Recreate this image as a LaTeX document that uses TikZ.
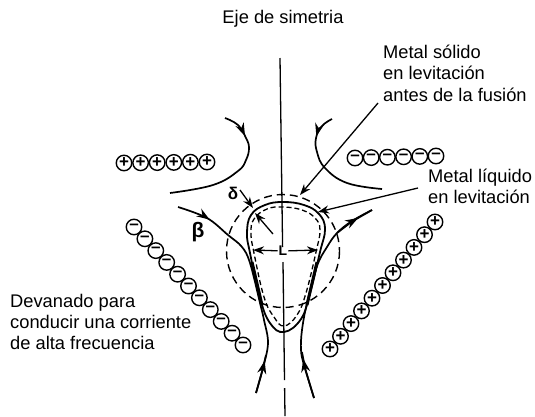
\documentclass[tikz,border=0pt]{standalone}
\usepackage{fontspec}
\setmainfont{Liberation Sans}
\usepackage{tikz}
\usetikzlibrary{decorations.markings,arrows.meta}
\tikzset{
    lab/.style={anchor=west, align=left, inner sep=0pt, font=\fontsize{18.3}{21.2}\selectfont},
    coilplus/.style={draw, circle, line width=1.4pt, minimum size=15.5pt, inner sep=0pt, font=\fontsize{17}{17}\selectfont\bfseries},
    coilminus/.style={coilplus},
    fieldline/.style={line width=1.7pt},
    leader/.style={-{Stealth[length=11pt,width=8pt]}, line width=1.3pt},
    arrowat/.style={postaction={decorate}, decoration={markings, mark=at position #1 with {\arrow{Stealth[length=13pt,width=9pt]}}}}
}
\begin{document}
\begin{tikzpicture}[x=1pt, y=-1pt]
    \useasboundingbox (0,0) rectangle (535,416);
    % Symmetry axis
    \draw[line width=1.3pt] (280,58) -- (282.6,247);
    \draw[line width=1.3pt] (283,262) -- (284.5,380);
    \draw[line width=1.3pt] (284.6,388) -- (285,416);
    % Labels
    \node[lab, anchor=center] (axislab) at (283,19) {Eje de simetria};
    \node[lab, anchor=north west] (solidlab) at (383,45) {Metal sólido\\en levitación\\antes de la fusión};
    \node[lab, anchor=north west] (liquidlab) at (428,169) {Metal líquido\\en levitación};
    \node[lab, anchor=north west] (coillab) at (10,294) {Devanado para\\conducir una corriente\\de alta frecuencia};
    \node[font=\fontsize{21}{21}\selectfont\bfseries] (betalab) at (198,232) {β};
    \node[font=\fontsize{17}{17}\selectfont\bfseries] (deltalab) at (233,193) {δ};
    \node[inner sep=1pt, font=\fontsize{14}{14}\selectfont\bfseries] (lenlab) at (283,251) {L};
    % Coils
    \foreach \i in {0,...,5} {
        \node[coilplus] (cpa\i) at ({124+16.6*\i},{163-0.2*\i}) {+};
        \node[coilminus] (cma\i) at ({355+16.2*\i},{158-0.4*\i}) {\raisebox{1pt}{–}};
    }
    \foreach \i in {0,...,10} {
        \node[coilminus] (cmb\i) at ({134+10.9*\i},{227+11.8*\i}) {\raisebox{1pt}{–}};
        \node[coilplus] (cpb\i) at ({330+10.5*\i},{349-12.7*\i}) {+};
    }
    % Outer field lines
    \draw[fieldline, arrowat=0.2] plot[smooth, tension=0.7] coordinates {(225,118) (238,125) (246,138) (249,148) (246,160) (238,171) (213,185) (170,193)};
    \draw[fieldline, arrowat=0.2] plot[smooth, tension=0.7] coordinates {(332,119) (322,126) (316,138) (317,152) (325,168) (347,183) (382,189)};
    \draw[fieldline, arrowat=0.15] plot[smooth, tension=0.6] coordinates {(178,207) (207,218) (228,235) (242,247) (250,263) (260,303) (264,320) (268,343) (263,368) (256,393)};
    \draw[fieldline] plot[smooth, tension=0.6] coordinates {(314,398) (304,365) (301,350) (302,330) (307,303) (317,266) (327,247) (337,233) (352,221) (372,210)};
    \draw[fieldline, arrowat=0.62] (337,233) -- (352,221.5) -- (372,210);
    \draw[fieldline, arrowat=0.85] (256,393) -- (263,368) -- (266,355);
    \draw[fieldline, arrowat=0.85] (314,398) -- (305,368) -- (302,352);
    % Droplet and field thickening
    \draw[line width=1.8pt] plot[smooth cycle, tension=0.7] coordinates {(283,202) (304,205) (319,214) (325,229) (320,252) (310,293) (301,319) (284,332) (270,323) (260,298) (250,253) (247,233) (251,215) (265,205)};
    \draw[line width=1.3pt, dash pattern=on 5pt off 3pt] plot[smooth cycle, tension=0.7] coordinates {(283,207) (302,210) (315,218) (320,230) (316,252) (306,293) (297,315) (284,326) (274,317) (264,297) (254,253) (251,233) (254,219) (267,209)};
    \draw[line width=1.4pt, dash pattern=on 8pt off 5pt] (283,251) circle (56.5);
    \draw[line width=3pt] (252,262) -- (262,305);
    \draw[line width=3pt] (317,262) -- (307,305);
    % Leaders
    \coordinate (solidend) at (300,195);
    \coordinate (liquidend) at (318,212);
    \coordinate (solidstart) at (378,103);
    \coordinate (liquidstart) at (418,188);
    \coordinate (deltastart) at (240,190);
    \coordinate (deltaend) at (253,208);
    \coordinate (innerstart) at (273,234);
    \coordinate (innerend) at (255,213);
    \coordinate (lenleft) at (253,250);
    \coordinate (lenright) at (318,250);
    \draw[leader] (solidstart) -- (solidend);
    \draw[leader] (liquidstart) -- (liquidend);
    \draw[leader] (deltastart) -- (deltaend);
    \draw[leader] (innerstart) -- (innerend);
    \draw[leader] (lenlab) -- (lenleft);
    \draw[leader] (lenlab) -- (lenright);
\end{tikzpicture}
\end{document}
